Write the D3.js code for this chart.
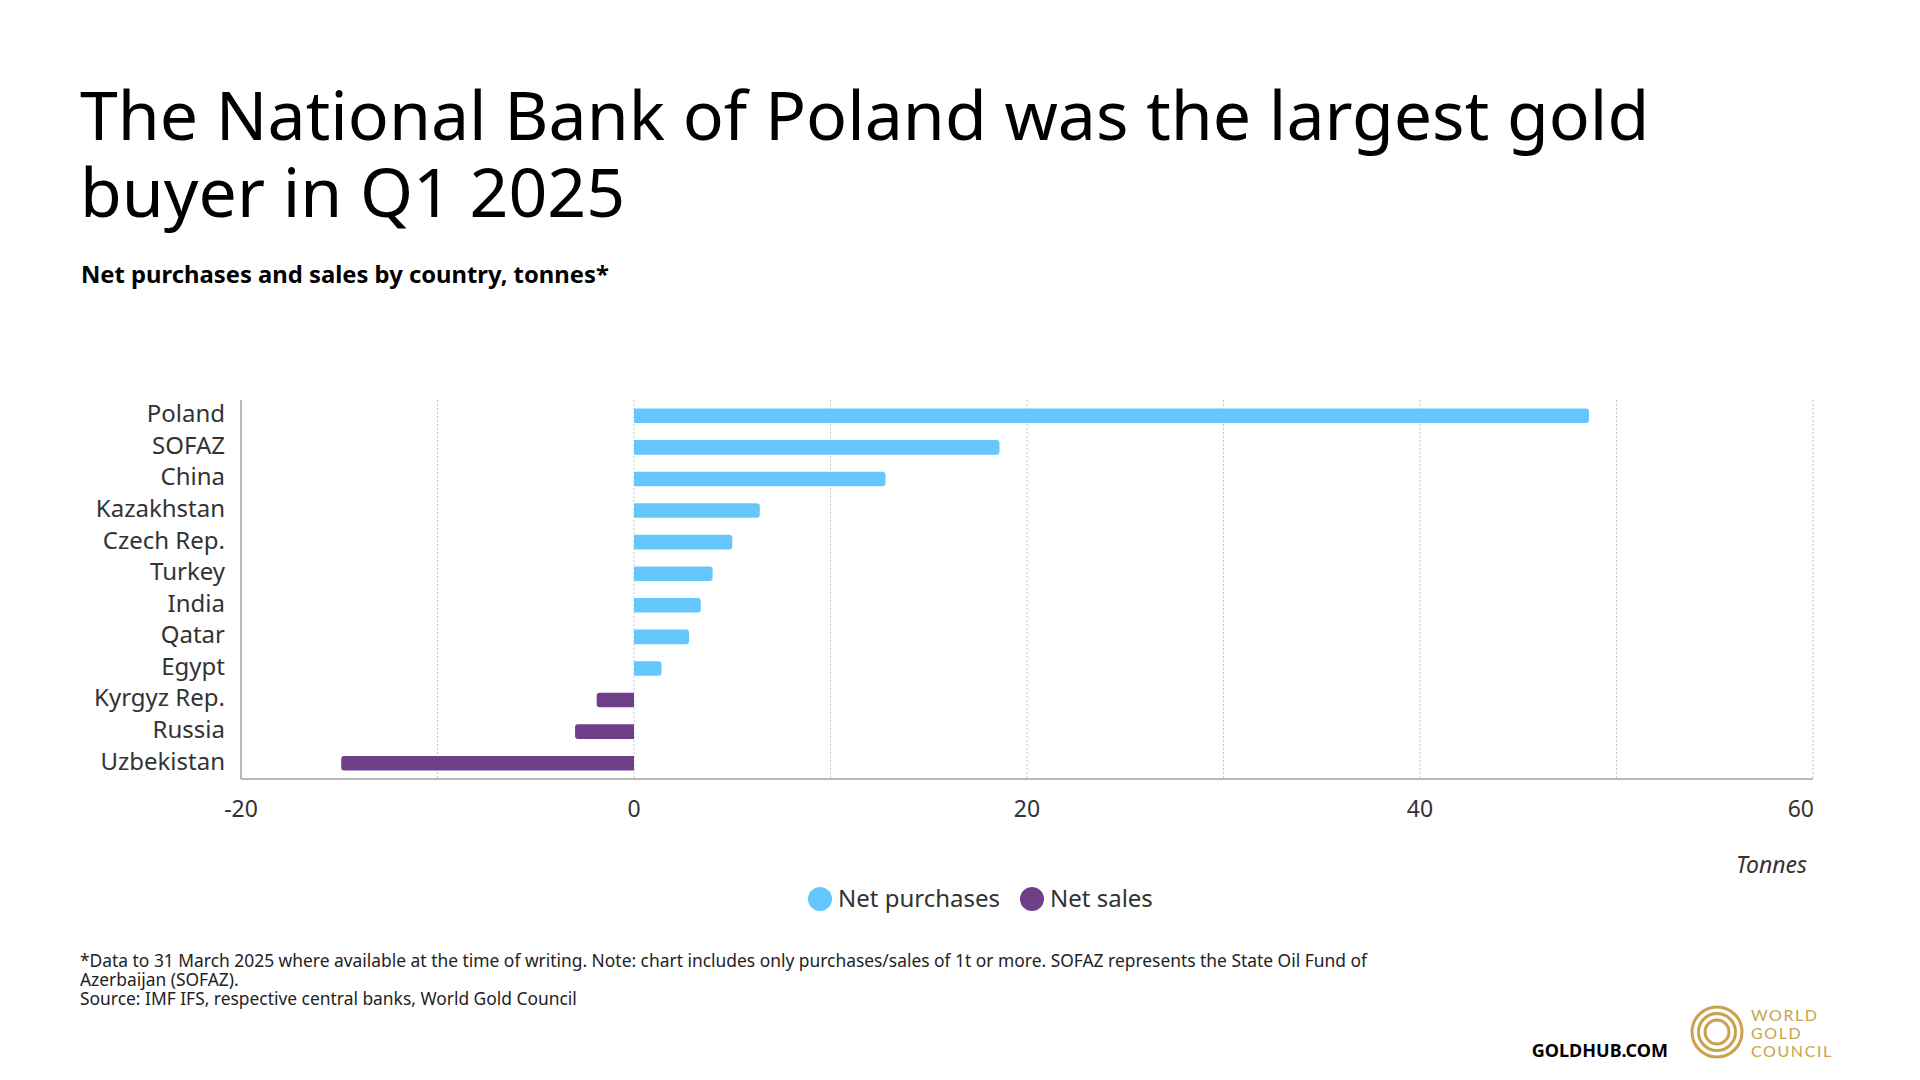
<!DOCTYPE html>
<html>
<head>
<meta charset="utf-8">
<script src="https://cdn.jsdelivr.net/npm/d3@7"></script>
<style>
  body { margin: 0; background: #fff; }
  svg { display: block; font-family: "Noto Sans", "Open Sans", sans-serif; }
</style>
</head>
<body>
<div id="chart"></div>
<script>
// chart data
const countries = ["Poland", "SOFAZ", "China", "Kazakhstan", "Czech Rep.", "Turkey", "India", "Qatar", "Egypt", "Kyrgyz Rep.", "Russia", "Uzbekistan"];
const tonnes = [48.6, 18.6, 12.8, 6.4, 5.0, 4.0, 3.4, 2.8, 1.4, -1.9, -3.0, -14.9];
const xTicks = [-20, 0, 20, 40, 60];
const gridValues = [-10, 0, 10, 20, 30, 40, 50, 60];
const seriesNames = ["Net purchases", "Net sales"];
const seriesColors = ["#66c7ff", "#6e4089"];

const width = 1920, height = 1080;
const svg = d3.select("#chart").append("svg")
    .attr("width", width)
    .attr("height", height);

// plot area
const plotLeft = 241, plotRight = 1813, plotTop = 400, plotBottom = 779;

const x = d3.scaleLinear().domain([-20, 60]).range([plotLeft, plotRight]);
const y = d3.scaleBand().domain(countries).range([plotTop, plotBottom]).paddingInner(0.54).paddingOuter(0.27);

// titles
const title = svg.append("text")
    .attr("x", 80).attr("y", 140)
    .attr("font-size", 68).attr("fill", "#000");
title.append("tspan").attr("x", 80).text("The National Bank of Poland was the largest gold");
title.append("tspan").attr("x", 80).attr("dy", 77).text("buyer in Q1 2025");

svg.append("text")
    .attr("x", 81).attr("y", 283)
    .attr("font-size", 23.8).attr("font-weight", "bold").attr("fill", "#000")
    .text("Net purchases and sales by country, tonnes*");

// gridlines
svg.append("g").selectAll("line")
    .data(gridValues)
    .join("line")
    .attr("x1", d => x(d)).attr("x2", d => x(d))
    .attr("y1", plotTop).attr("y2", plotBottom)
    .attr("stroke", "#c8c8c8")
    .attr("stroke-width", 1)
    .attr("stroke-dasharray", "2,2");

// axis lines
svg.append("line")
    .attr("x1", plotLeft).attr("x2", plotLeft).attr("y1", plotTop).attr("y2", plotBottom)
    .attr("stroke", "#a0a0a0").attr("stroke-width", 1.5);
svg.append("line")
    .attr("x1", plotLeft).attr("x2", plotRight).attr("y1", plotBottom).attr("y2", plotBottom)
    .attr("stroke", "#a0a0a0").attr("stroke-width", 1.5);

// bars, rounded at the outer end only
const r = 3;
function barPath(v, yTop, h) {
    const x0 = x(0), x1 = x(v);
    if (v >= 0) {
        return `M${x0},${yTop}H${x1 - r}Q${x1},${yTop} ${x1},${yTop + r}V${yTop + h - r}Q${x1},${yTop + h} ${x1 - r},${yTop + h}H${x0}Z`;
    }
    return `M${x0},${yTop}H${x1 + r}Q${x1},${yTop} ${x1},${yTop + r}V${yTop + h - r}Q${x1},${yTop + h} ${x1 + r},${yTop + h}H${x0}Z`;
}

svg.append("g").selectAll("path")
    .data(countries.map((c, i) => ({ country: c, value: tonnes[i] })))
    .join("path")
    .attr("d", d => barPath(d.value, y(d.country), y.bandwidth()))
    .attr("fill", d => d.value >= 0 ? seriesColors[0] : seriesColors[1]);

// category labels
svg.append("g").selectAll("text")
    .data(countries)
    .join("text")
    .attr("x", plotLeft - 16)
    .attr("y", d => y(d) + y.bandwidth() / 2 - 2)
    .attr("dy", "0.35em")
    .attr("text-anchor", "end")
    .attr("font-size", 24)
    .attr("fill", "#333")
    .text(d => d);

// x tick labels
svg.append("g").selectAll("text")
    .data(xTicks)
    .join("text")
    .attr("x", (d, i) => i === xTicks.length - 1 ? plotRight + 1 : x(d))
    .attr("y", 817)
    .attr("text-anchor", (d, i) => i === xTicks.length - 1 ? "end" : "middle")
    .attr("font-size", 23)
    .attr("fill", "#333")
    .text(d => d);

svg.append("text")
    .attr("x", 1807).attr("y", 873)
    .attr("text-anchor", "end")
    .attr("font-size", 23).attr("font-style", "italic").attr("fill", "#333")
    .text("Tonnes");

// legend
const legendX = [820, 1032];
const legend = svg.append("g").selectAll("g")
    .data(seriesNames)
    .join("g")
    .attr("transform", (d, i) => `translate(${legendX[i]},899)`);
legend.append("circle").attr("r", 12).attr("fill", (d, i) => seriesColors[i]);
legend.append("text")
    .attr("x", 18).attr("y", 8)
    .attr("font-size", 24).attr("fill", "#333")
    .text(d => d);

// footnote
const notes = [
    "*Data to 31 March 2025 where available at the time of writing. Note: chart includes only purchases/sales of 1t or more. SOFAZ represents the State Oil Fund of",
    "Azerbaijan (SOFAZ).",
    "Source: IMF IFS, respective central banks, World Gold Council"
];
svg.append("g").selectAll("text")
    .data(notes)
    .join("text")
    .attr("x", 80)
    .attr("y", (d, i) => 967 + i * 19)
    .attr("font-size", 17.4)
    .attr("fill", "#222")
    .text(d => d);

// branding
svg.append("text")
    .attr("x", 1668).attr("y", 1057)
    .attr("text-anchor", "end")
    .attr("font-size", 18).attr("font-weight", "bold").attr("fill", "#000")
    .text("GOLDHUB.COM");

const gold = "#c9a24b";
const logo = svg.append("g").attr("transform", "translate(1717,1032)");
[25, 18.5, 12].forEach(rr => {
    logo.append("circle").attr("r", rr).attr("fill", "none").attr("stroke", gold).attr("stroke-width", 3);
});
["WORLD", "GOLD", "COUNCIL"].forEach((t, i) => {
    svg.append("text")
        .attr("x", 1751).attr("y", 1021 + i * 18)
        .attr("font-size", 16).attr("fill", gold)
        .attr("letter-spacing", 1.6)
        .attr("font-family", "Lato, sans-serif")
        .text(t);
});
</script>
</body>
</html>
